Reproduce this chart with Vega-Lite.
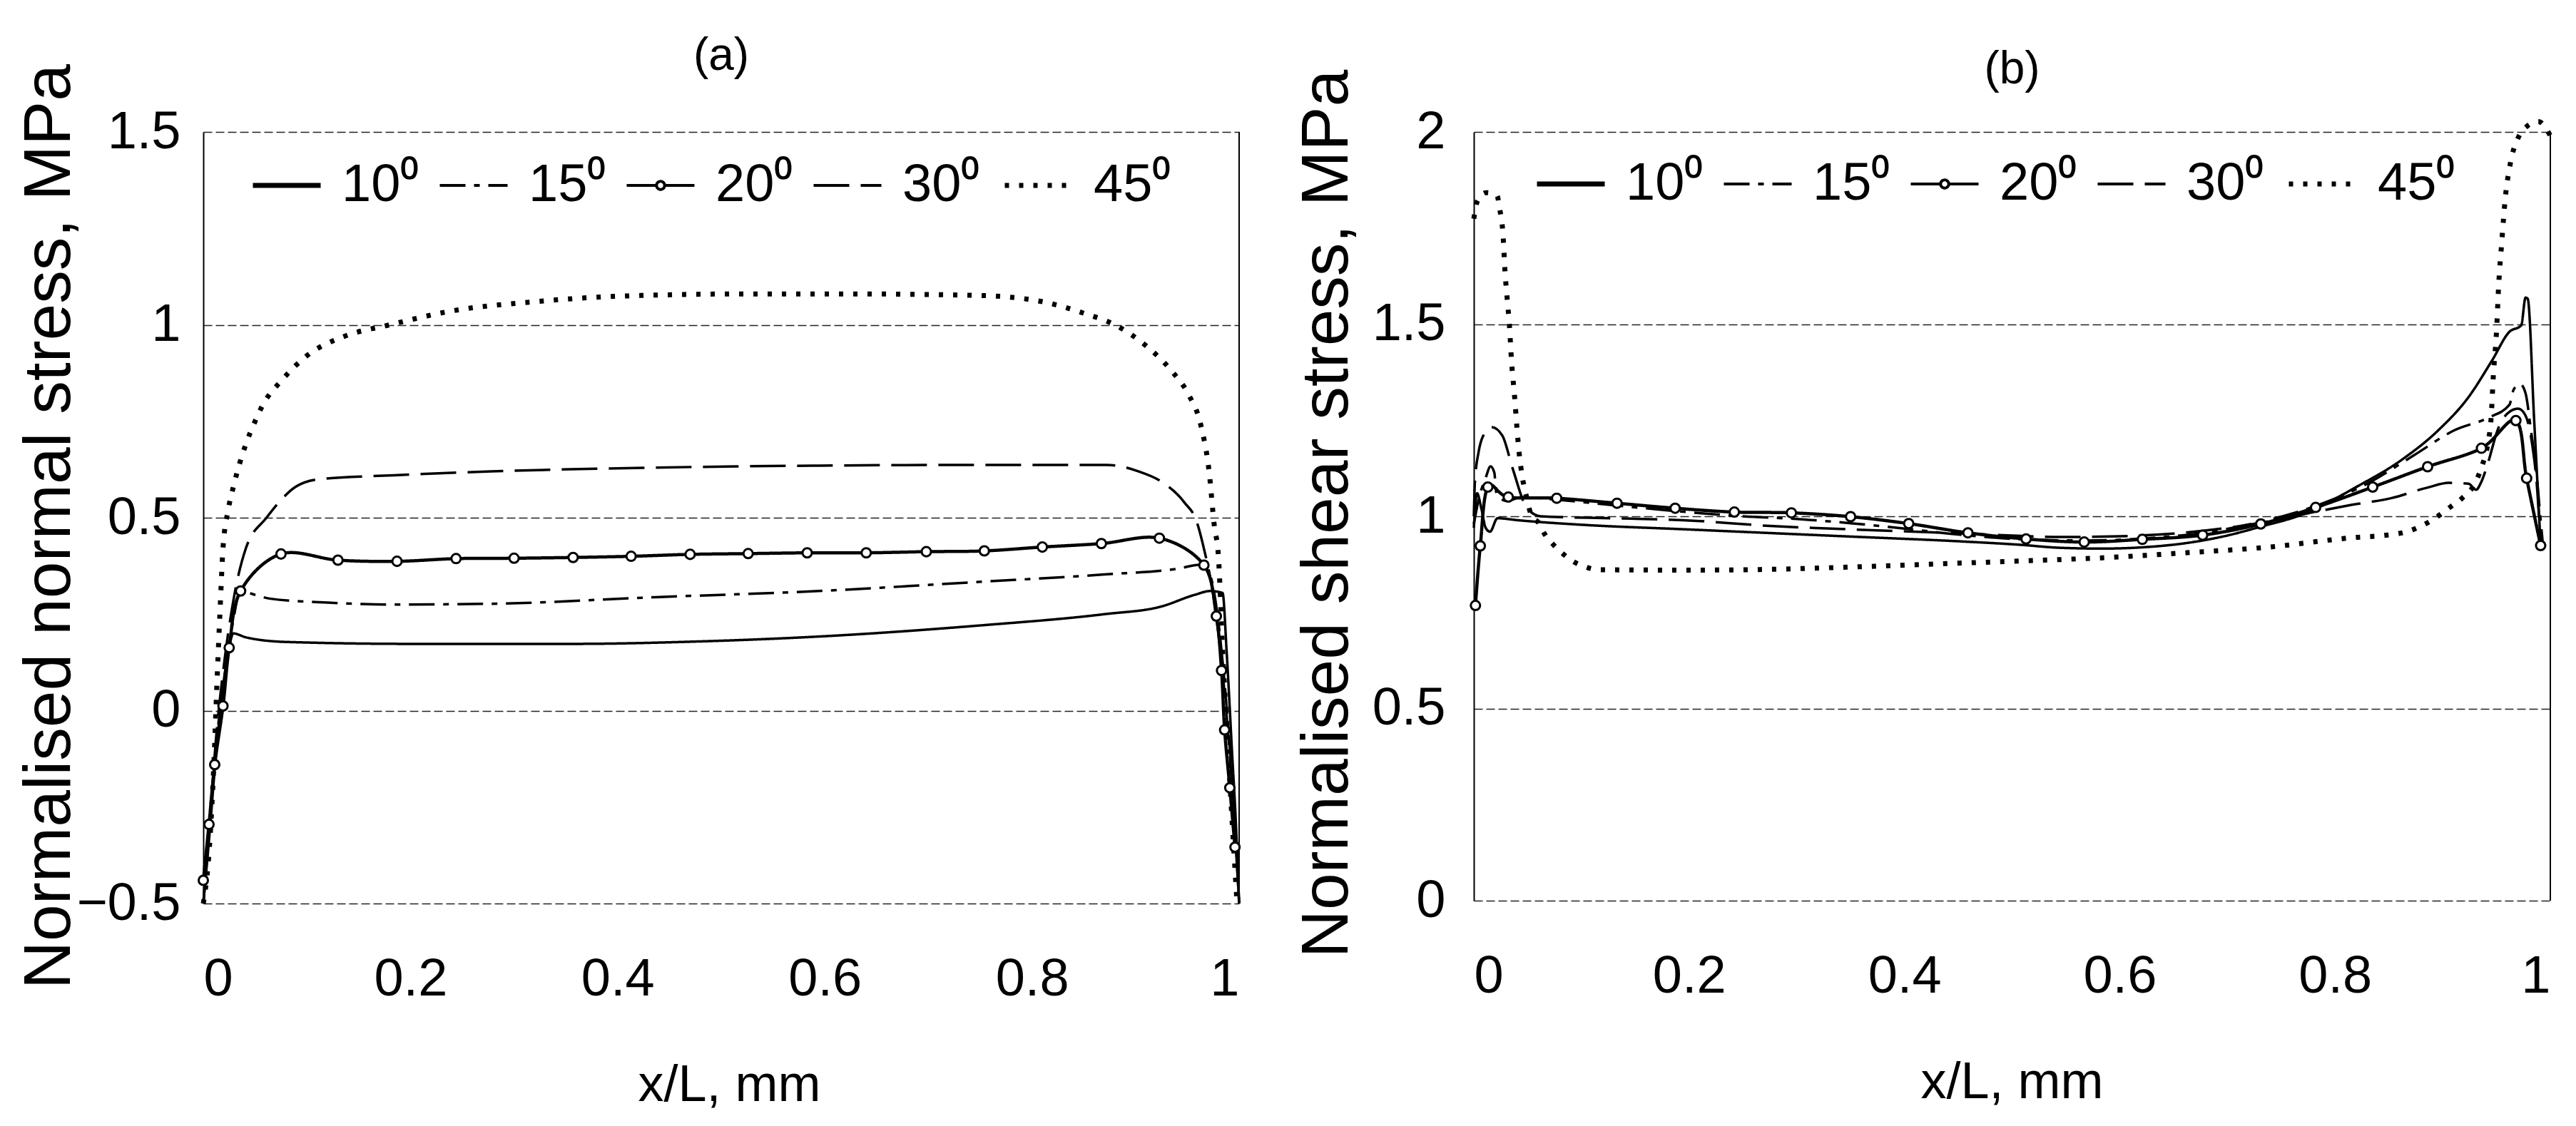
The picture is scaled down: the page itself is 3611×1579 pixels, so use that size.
{
  "$schema": "https://vega.github.io/schema/vega-lite/v6.json",
  "background": "white",
  "padding": {"left": 22, "top": 47, "right": 5, "bottom": 5},
  "bounds": "flush",
  "spacing": 329,
  "config": {
    "font": "Liberation Sans",
    "view": {"stroke": null},
    "axis": {"labelColor": "black", "titleColor": "black", "labelFont": "Liberation Sans", "titleFont": "Liberation Sans", "titleFontWeight": "normal", "ticks": false, "labelFontSize": 74},
    "axisX": {"domain": false, "grid": false, "labelPadding": 70, "titleFontSize": 72, "titleBaseline": "alphabetic"},
    "axisY": {"domain": true, "domainColor": "black", "domainWidth": 2, "grid": true, "gridColor": "#222222", "gridWidth": 1.5, "gridDash": [12, 5], "labelPadding": 32, "titleFontSize": 93, "titleBaseline": "alphabetic", "titleAngle": 270, "titleAlign": "center"},
    "title": {"fontSize": 64, "fontWeight": "normal", "color": "black", "font": "Liberation Sans", "anchor": "middle"}
  },
  "datasets": {
    "a": [
      {"x": 0, "y": -0.5, "s": "10⁰"}, {"x": 0.006, "y": -0.32, "s": "10⁰"}, {"x": 0.012, "y": -0.12, "s": "10⁰"}, {"x": 0.018, "y": 0.04, "s": "10⁰"}, {"x": 0.024, "y": 0.15, "s": "10⁰"}, {"x": 0.029, "y": 0.2, "s": "10⁰"}, {"x": 0.041, "y": 0.19, "s": "10⁰"}, {"x": 0.08, "y": 0.178, "s": "10⁰"}, {"x": 0.2, "y": 0.173, "s": "10⁰"}, {"x": 0.357, "y": 0.173, "s": "10⁰"}, {"x": 0.475, "y": 0.179, "s": "10⁰"}, {"x": 0.594, "y": 0.192, "s": "10⁰"}, {"x": 0.751, "y": 0.221, "s": "10⁰"}, {"x": 0.87, "y": 0.25, "s": "10⁰"}, {"x": 0.925, "y": 0.27, "s": "10⁰"}, {"x": 0.957, "y": 0.3, "s": "10⁰"}, {"x": 0.972, "y": 0.31, "s": "10⁰"}, {"x": 0.984, "y": 0.305, "s": "10⁰"}, {"x": 0.988, "y": 0.15, "s": "10⁰"}, {"x": 0.993, "y": -0.1, "s": "10⁰"}, {"x": 0.997, "y": -0.3, "s": "10⁰"}, {"x": 1, "y": -0.5, "s": "10⁰"},
      {"x": 0, "y": -0.5, "s": "15⁰"}, {"x": 0.006, "y": -0.3, "s": "15⁰"}, {"x": 0.012, "y": -0.1, "s": "15⁰"}, {"x": 0.02, "y": 0.08, "s": "15⁰"}, {"x": 0.028, "y": 0.22, "s": "15⁰"}, {"x": 0.036, "y": 0.31, "s": "15⁰"}, {"x": 0.05, "y": 0.3, "s": "15⁰"}, {"x": 0.065, "y": 0.29, "s": "15⁰"}, {"x": 0.12, "y": 0.28, "s": "15⁰"}, {"x": 0.183, "y": 0.275, "s": "15⁰"}, {"x": 0.278, "y": 0.277, "s": "15⁰"}, {"x": 0.436, "y": 0.294, "s": "15⁰"}, {"x": 0.594, "y": 0.31, "s": "15⁰"}, {"x": 0.751, "y": 0.334, "s": "15⁰"}, {"x": 0.87, "y": 0.353, "s": "15⁰"}, {"x": 0.941, "y": 0.368, "s": "15⁰"}, {"x": 0.962, "y": 0.378, "s": "15⁰"}, {"x": 0.972, "y": 0.35, "s": "15⁰"}, {"x": 0.979, "y": 0.25, "s": "15⁰"}, {"x": 0.985, "y": 0.1, "s": "15⁰"}, {"x": 0.991, "y": -0.1, "s": "15⁰"}, {"x": 0.996, "y": -0.3, "s": "15⁰"}, {"x": 1, "y": -0.5, "s": "15⁰"},
      {"x": 0, "y": -0.44, "s": "20⁰"}, {"x": 0.0055, "y": -0.295, "s": "20⁰"}, {"x": 0.011, "y": -0.14, "s": "20⁰"}, {"x": 0.019, "y": 0.012, "s": "20⁰"}, {"x": 0.025, "y": 0.163, "s": "20⁰"}, {"x": 0.036, "y": 0.31, "s": "20⁰"}, {"x": 0.075, "y": 0.406, "s": "20⁰"}, {"x": 0.13, "y": 0.39, "s": "20⁰"}, {"x": 0.187, "y": 0.387, "s": "20⁰"}, {"x": 0.244, "y": 0.394, "s": "20⁰"}, {"x": 0.3, "y": 0.395, "s": "20⁰"}, {"x": 0.357, "y": 0.397, "s": "20⁰"}, {"x": 0.413, "y": 0.4, "s": "20⁰"}, {"x": 0.47, "y": 0.405, "s": "20⁰"}, {"x": 0.526, "y": 0.407, "s": "20⁰"}, {"x": 0.583, "y": 0.409, "s": "20⁰"}, {"x": 0.64, "y": 0.409, "s": "20⁰"}, {"x": 0.698, "y": 0.412, "s": "20⁰"}, {"x": 0.754, "y": 0.414, "s": "20⁰"}, {"x": 0.81, "y": 0.424, "s": "20⁰"}, {"x": 0.867, "y": 0.433, "s": "20⁰"}, {"x": 0.923, "y": 0.447, "s": "20⁰"}, {"x": 0.966, "y": 0.377, "s": "20⁰"}, {"x": 0.978, "y": 0.245, "s": "20⁰"}, {"x": 0.983, "y": 0.104, "s": "20⁰"}, {"x": 0.986, "y": -0.05, "s": "20⁰"}, {"x": 0.991, "y": -0.2, "s": "20⁰"}, {"x": 0.996, "y": -0.354, "s": "20⁰"},
      {"x": 0, "y": -0.5, "s": "30⁰"}, {"x": 0.006, "y": -0.3, "s": "30⁰"}, {"x": 0.012, "y": -0.08, "s": "30⁰"}, {"x": 0.02, "y": 0.12, "s": "30⁰"}, {"x": 0.03, "y": 0.3, "s": "30⁰"}, {"x": 0.041, "y": 0.42, "s": "30⁰"}, {"x": 0.061, "y": 0.5, "s": "30⁰"}, {"x": 0.073, "y": 0.54, "s": "30⁰"}, {"x": 0.089, "y": 0.58, "s": "30⁰"}, {"x": 0.112, "y": 0.6, "s": "30⁰"}, {"x": 0.184, "y": 0.61, "s": "30⁰"}, {"x": 0.278, "y": 0.62, "s": "30⁰"}, {"x": 0.437, "y": 0.63, "s": "30⁰"}, {"x": 0.595, "y": 0.635, "s": "30⁰"}, {"x": 0.753, "y": 0.637, "s": "30⁰"}, {"x": 0.872, "y": 0.637, "s": "30⁰"}, {"x": 0.903, "y": 0.62, "s": "30⁰"}, {"x": 0.927, "y": 0.59, "s": "30⁰"}, {"x": 0.947, "y": 0.54, "s": "30⁰"}, {"x": 0.959, "y": 0.49, "s": "30⁰"}, {"x": 0.966, "y": 0.42, "s": "30⁰"}, {"x": 0.975, "y": 0.3, "s": "30⁰"}, {"x": 0.984, "y": 0.1, "s": "30⁰"}, {"x": 0.992, "y": -0.15, "s": "30⁰"}, {"x": 1, "y": -0.5, "s": "30⁰"},
      {"x": 0, "y": -0.5, "s": "45⁰"}, {"x": 0.006, "y": -0.35, "s": "45⁰"}, {"x": 0.01, "y": -0.15, "s": "45⁰"}, {"x": 0.013, "y": 0.06, "s": "45⁰"}, {"x": 0.016, "y": 0.25, "s": "45⁰"}, {"x": 0.019, "y": 0.42, "s": "45⁰"}, {"x": 0.024, "y": 0.52, "s": "45⁰"}, {"x": 0.029, "y": 0.58, "s": "45⁰"}, {"x": 0.035, "y": 0.64, "s": "45⁰"}, {"x": 0.041, "y": 0.69, "s": "45⁰"}, {"x": 0.05, "y": 0.75, "s": "45⁰"}, {"x": 0.057, "y": 0.79, "s": "45⁰"}, {"x": 0.077, "y": 0.86, "s": "45⁰"}, {"x": 0.1, "y": 0.92, "s": "45⁰"}, {"x": 0.136, "y": 0.97, "s": "45⁰"}, {"x": 0.18, "y": 1.0, "s": "45⁰"}, {"x": 0.24, "y": 1.036, "s": "45⁰"}, {"x": 0.32, "y": 1.06, "s": "45⁰"}, {"x": 0.4, "y": 1.074, "s": "45⁰"}, {"x": 0.52, "y": 1.08, "s": "45⁰"}, {"x": 0.63, "y": 1.08, "s": "45⁰"}, {"x": 0.75, "y": 1.076, "s": "45⁰"}, {"x": 0.81, "y": 1.06, "s": "45⁰"}, {"x": 0.85, "y": 1.03, "s": "45⁰"}, {"x": 0.88, "y": 1.0, "s": "45⁰"}, {"x": 0.91, "y": 0.946, "s": "45⁰"}, {"x": 0.935, "y": 0.88, "s": "45⁰"}, {"x": 0.951, "y": 0.82, "s": "45⁰"}, {"x": 0.963, "y": 0.74, "s": "45⁰"}, {"x": 0.971, "y": 0.62, "s": "45⁰"}, {"x": 0.976, "y": 0.48, "s": "45⁰"}, {"x": 0.98, "y": 0.4, "s": "45⁰"}, {"x": 0.984, "y": 0.16, "s": "45⁰"}, {"x": 0.988, "y": -0.04, "s": "45⁰"}, {"x": 0.992, "y": -0.23, "s": "45⁰"}, {"x": 0.998, "y": -0.5, "s": "45⁰"}
    ],
    "b": [
      {"x": 0, "y": 0.97, "s": "10⁰"}, {"x": 0.003, "y": 1.06, "s": "10⁰"}, {"x": 0.007, "y": 1.02, "s": "10⁰"}, {"x": 0.011, "y": 0.97, "s": "10⁰"}, {"x": 0.015, "y": 0.96, "s": "10⁰"}, {"x": 0.022, "y": 0.995, "s": "10⁰"}, {"x": 0.04, "y": 0.99, "s": "10⁰"}, {"x": 0.1, "y": 0.978, "s": "10⁰"}, {"x": 0.197, "y": 0.966, "s": "10⁰"}, {"x": 0.352, "y": 0.947, "s": "10⁰"}, {"x": 0.45, "y": 0.935, "s": "10⁰"}, {"x": 0.507, "y": 0.926, "s": "10⁰"}, {"x": 0.545, "y": 0.918, "s": "10⁰"}, {"x": 0.584, "y": 0.916, "s": "10⁰"}, {"x": 0.625, "y": 0.92, "s": "10⁰"}, {"x": 0.661, "y": 0.93, "s": "10⁰"}, {"x": 0.7, "y": 0.95, "s": "10⁰"}, {"x": 0.731, "y": 0.973, "s": "10⁰"}, {"x": 0.77, "y": 1.005, "s": "10⁰"}, {"x": 0.819, "y": 1.075, "s": "10⁰"}, {"x": 0.863, "y": 1.149, "s": "10⁰"}, {"x": 0.896, "y": 1.224, "s": "10⁰"}, {"x": 0.924, "y": 1.31, "s": "10⁰"}, {"x": 0.946, "y": 1.406, "s": "10⁰"}, {"x": 0.962, "y": 1.48, "s": "10⁰"}, {"x": 0.973, "y": 1.497, "s": "10⁰"}, {"x": 0.977, "y": 1.569, "s": "10⁰"}, {"x": 0.979, "y": 1.566, "s": "10⁰"}, {"x": 0.985, "y": 1.25, "s": "10⁰"}, {"x": 0.991, "y": 0.924, "s": "10⁰"},
      {"x": 0, "y": 0.98, "s": "15⁰"}, {"x": 0.005, "y": 1.05, "s": "15⁰"}, {"x": 0.011, "y": 1.1, "s": "15⁰"}, {"x": 0.0155, "y": 1.13, "s": "15⁰"}, {"x": 0.019, "y": 1.114, "s": "15⁰"}, {"x": 0.021, "y": 1.06, "s": "15⁰"}, {"x": 0.03, "y": 1.04, "s": "15⁰"}, {"x": 0.045, "y": 1.05, "s": "15⁰"}, {"x": 0.077, "y": 1.043, "s": "15⁰"}, {"x": 0.133, "y": 1.028, "s": "15⁰"}, {"x": 0.19, "y": 1.013, "s": "15⁰"}, {"x": 0.25, "y": 1.0, "s": "15⁰"}, {"x": 0.3, "y": 0.993, "s": "15⁰"}, {"x": 0.35, "y": 0.982, "s": "15⁰"}, {"x": 0.4, "y": 0.968, "s": "15⁰"}, {"x": 0.46, "y": 0.95, "s": "15⁰"}, {"x": 0.51, "y": 0.94, "s": "15⁰"}, {"x": 0.57, "y": 0.937, "s": "15⁰"}, {"x": 0.62, "y": 0.942, "s": "15⁰"}, {"x": 0.68, "y": 0.958, "s": "15⁰"}, {"x": 0.73, "y": 0.985, "s": "15⁰"}, {"x": 0.78, "y": 1.025, "s": "15⁰"}, {"x": 0.83, "y": 1.085, "s": "15⁰"}, {"x": 0.874, "y": 1.16, "s": "15⁰"}, {"x": 0.911, "y": 1.224, "s": "15⁰"}, {"x": 0.942, "y": 1.256, "s": "15⁰"}, {"x": 0.962, "y": 1.29, "s": "15⁰"}, {"x": 0.966, "y": 1.33, "s": "15⁰"}, {"x": 0.972, "y": 1.344, "s": "15⁰"}, {"x": 0.977, "y": 1.32, "s": "15⁰"}, {"x": 0.982, "y": 1.224, "s": "15⁰"}, {"x": 0.987, "y": 1.117, "s": "15⁰"}, {"x": 0.991, "y": 0.99, "s": "15⁰"}, {"x": 0.993, "y": 0.93, "s": "15⁰"},
      {"x": 0.0015, "y": 0.768, "s": "20⁰"}, {"x": 0.006, "y": 0.923, "s": "20⁰"}, {"x": 0.013, "y": 1.076, "s": "20⁰"}, {"x": 0.032, "y": 1.05, "s": "20⁰"}, {"x": 0.077, "y": 1.047, "s": "20⁰"}, {"x": 0.133, "y": 1.034, "s": "20⁰"}, {"x": 0.187, "y": 1.021, "s": "20⁰"}, {"x": 0.242, "y": 1.011, "s": "20⁰"}, {"x": 0.295, "y": 1.009, "s": "20⁰"}, {"x": 0.35, "y": 0.999, "s": "20⁰"}, {"x": 0.404, "y": 0.981, "s": "20⁰"}, {"x": 0.459, "y": 0.957, "s": "20⁰"}, {"x": 0.513, "y": 0.941, "s": "20⁰"}, {"x": 0.567, "y": 0.933, "s": "20⁰"}, {"x": 0.621, "y": 0.94, "s": "20⁰"}, {"x": 0.677, "y": 0.951, "s": "20⁰"}, {"x": 0.731, "y": 0.98, "s": "20⁰"}, {"x": 0.782, "y": 1.023, "s": "20⁰"}, {"x": 0.835, "y": 1.076, "s": "20⁰"}, {"x": 0.886, "y": 1.129, "s": "20⁰"}, {"x": 0.936, "y": 1.177, "s": "20⁰"}, {"x": 0.968, "y": 1.249, "s": "20⁰"}, {"x": 0.978, "y": 1.099, "s": "20⁰"}, {"x": 0.991, "y": 0.924, "s": "20⁰"},
      {"x": 0, "y": 1.0, "s": "30⁰"}, {"x": 0.001, "y": 1.09, "s": "30⁰"}, {"x": 0.0044, "y": 1.167, "s": "30⁰"}, {"x": 0.0088, "y": 1.21, "s": "30⁰"}, {"x": 0.0166, "y": 1.232, "s": "30⁰"}, {"x": 0.0265, "y": 1.21, "s": "30⁰"}, {"x": 0.036, "y": 1.125, "s": "30⁰"}, {"x": 0.049, "y": 1.023, "s": "30⁰"}, {"x": 0.062, "y": 1.0, "s": "30⁰"}, {"x": 0.128, "y": 0.995, "s": "30⁰"}, {"x": 0.194, "y": 0.99, "s": "30⁰"}, {"x": 0.275, "y": 0.975, "s": "30⁰"}, {"x": 0.35, "y": 0.966, "s": "30⁰"}, {"x": 0.43, "y": 0.958, "s": "30⁰"}, {"x": 0.5, "y": 0.95, "s": "30⁰"}, {"x": 0.545, "y": 0.946, "s": "30⁰"}, {"x": 0.6, "y": 0.948, "s": "30⁰"}, {"x": 0.65, "y": 0.955, "s": "30⁰"}, {"x": 0.7, "y": 0.97, "s": "30⁰"}, {"x": 0.739, "y": 0.987, "s": "30⁰"}, {"x": 0.777, "y": 1.009, "s": "30⁰"}, {"x": 0.816, "y": 1.03, "s": "30⁰"}, {"x": 0.852, "y": 1.047, "s": "30⁰"}, {"x": 0.885, "y": 1.074, "s": "30⁰"}, {"x": 0.906, "y": 1.087, "s": "30⁰"}, {"x": 0.924, "y": 1.085, "s": "30⁰"}, {"x": 0.931, "y": 1.069, "s": "30⁰"}, {"x": 0.936, "y": 1.09, "s": "30⁰"}, {"x": 0.942, "y": 1.138, "s": "30⁰"}, {"x": 0.951, "y": 1.224, "s": "30⁰"}, {"x": 0.96, "y": 1.267, "s": "30⁰"}, {"x": 0.97, "y": 1.28, "s": "30⁰"}, {"x": 0.976, "y": 1.267, "s": "30⁰"}, {"x": 0.983, "y": 1.19, "s": "30⁰"}, {"x": 0.988, "y": 1.063, "s": "30⁰"}, {"x": 0.991, "y": 0.924, "s": "30⁰"},
      {"x": 0, "y": 1.774, "s": "45⁰"}, {"x": 0.0033, "y": 1.82, "s": "45⁰"}, {"x": 0.0115, "y": 1.842, "s": "45⁰"}, {"x": 0.0216, "y": 1.834, "s": "45⁰"}, {"x": 0.024, "y": 1.8, "s": "45⁰"}, {"x": 0.027, "y": 1.737, "s": "45⁰"}, {"x": 0.029, "y": 1.635, "s": "45⁰"}, {"x": 0.031, "y": 1.565, "s": "45⁰"}, {"x": 0.033, "y": 1.5, "s": "45⁰"}, {"x": 0.035, "y": 1.404, "s": "45⁰"}, {"x": 0.038, "y": 1.307, "s": "45⁰"}, {"x": 0.04, "y": 1.232, "s": "45⁰"}, {"x": 0.042, "y": 1.167, "s": "45⁰"}, {"x": 0.045, "y": 1.103, "s": "45⁰"}, {"x": 0.049, "y": 1.05, "s": "45⁰"}, {"x": 0.053, "y": 1.006, "s": "45⁰"}, {"x": 0.061, "y": 0.98, "s": "45⁰"}, {"x": 0.066, "y": 0.953, "s": "45⁰"}, {"x": 0.074, "y": 0.926, "s": "45⁰"}, {"x": 0.083, "y": 0.902, "s": "45⁰"}, {"x": 0.092, "y": 0.883, "s": "45⁰"}, {"x": 0.103, "y": 0.869, "s": "45⁰"}, {"x": 0.115, "y": 0.861, "s": "45⁰"}, {"x": 0.2, "y": 0.86, "s": "45⁰"}, {"x": 0.275, "y": 0.862, "s": "45⁰"}, {"x": 0.35, "y": 0.868, "s": "45⁰"}, {"x": 0.43, "y": 0.876, "s": "45⁰"}, {"x": 0.5, "y": 0.883, "s": "45⁰"}, {"x": 0.584, "y": 0.892, "s": "45⁰"}, {"x": 0.661, "y": 0.905, "s": "45⁰"}, {"x": 0.739, "y": 0.92, "s": "45⁰"}, {"x": 0.819, "y": 0.945, "s": "45⁰"}, {"x": 0.845, "y": 0.95, "s": "45⁰"}, {"x": 0.868, "y": 0.961, "s": "45⁰"}, {"x": 0.889, "y": 0.988, "s": "45⁰"}, {"x": 0.908, "y": 1.026, "s": "45⁰"}, {"x": 0.918, "y": 1.047, "s": "45⁰"}, {"x": 0.932, "y": 1.097, "s": "45⁰"}, {"x": 0.936, "y": 1.127, "s": "45⁰"}, {"x": 0.942, "y": 1.19, "s": "45⁰"}, {"x": 0.945, "y": 1.256, "s": "45⁰"}, {"x": 0.947, "y": 1.363, "s": "45⁰"}, {"x": 0.95, "y": 1.48, "s": "45⁰"}, {"x": 0.952, "y": 1.6, "s": "45⁰"}, {"x": 0.955, "y": 1.717, "s": "45⁰"}, {"x": 0.958, "y": 1.823, "s": "45⁰"}, {"x": 0.963, "y": 1.92, "s": "45⁰"}, {"x": 0.97, "y": 1.984, "s": "45⁰"}, {"x": 0.978, "y": 2.014, "s": "45⁰"}, {"x": 0.989, "y": 2.027, "s": "45⁰"}, {"x": 1, "y": 1.99, "s": "45⁰"}
    ]
  },
  "resolve": {
    "scale": {"x": "independent", "y": "independent", "strokeDash": "independent"},
    "legend": {"strokeDash": "independent"}
  },
  "hconcat": [
    {
      "width": 1452,
      "height": 1082,
      "title": {"text": "(a)", "offset": -22},
      "data": {"name": "a"},
      "layer": [
        {
          "transform": [{"filter": "datum.s !== '20⁰'"}],
          "mark": {"type": "line", "interpolate": "monotone", "color": "black"},
          "encoding": {
            "x": {"field": "x", "type": "quantitative", "scale": {"domain": [0, 1], "nice": false, "zero": false}, "axis": {"values": [0, 0.2, 0.4, 0.6, 0.8, 1], "format": "~g", "title": "x/L, mm", "titleX": 737, "titleY": 276}},
            "y": {"field": "y", "type": "quantitative", "scale": {"domain": [-0.5, 1.5], "nice": false, "zero": false}, "axis": {"values": [-0.5, 0, 0.5, 1, 1.5], "format": "~g", "title": "Normalised normal stress, MPa", "titleX": -188, "titleY": 553}},
            "strokeDash": {
              "field": "s", "type": "nominal",
              "scale": {"domain": ["10⁰", "15⁰", "20⁰", "30⁰", "45⁰"], "range": [[1, 0], [36, 12, 8, 12], [1, 0], [50, 16], [6, 14]]},
              "legend": {
                "orient": "none", "legendX": 80, "legendY": 38, "direction": "horizontal", "columns": 5, "title": null,
                "symbolType": "stroke", "symbolSize": 9025, "symbolStrokeWidth": 5, "symbolStrokeColor": "black",
                "labelFontSize": 74, "labelColor": "black", "labelOffset": 40, "columnPadding": 20,
                "encode": {"symbols": {"update": {
                  "shape": {"signal": "datum.value === '20⁰' ? 'M-1,0H-0.12M0.12,0H1M-0.12,0A0.12,0.12 0 1,1 0.12,0A0.12,0.12 0 1,1 -0.12,0' : 'stroke'"},
                  "stroke": {"value": "black"},
                  "fill": {"value": "white"},
                  "strokeDash": {"signal": "datum.value === '15⁰' ? [36, 12, 8, 12] : datum.value === '30⁰' ? [32, 12] : datum.value === '45⁰' ? [6, 10] : [1, 0]"},
                  "strokeWidth": {"signal": "datum.value === '45⁰' ? 7 : (datum.value === '10⁰' ? 7 : 4)"},
                  "opacity": {"value": 1}
                }}}
              }
            },
            "strokeWidth": {"condition": {"test": "datum.s === '45⁰'", "value": 7}, "value": 3.5}
          }
        },
        {
          "transform": [{"filter": "datum.s === '20⁰'"}],
          "mark": {"type": "line", "interpolate": "cardinal", "color": "black", "strokeWidth": 4.5},
          "encoding": {
            "x": {"field": "x", "type": "quantitative"},
            "y": {"field": "y", "type": "quantitative"},
            "strokeDash": {"field": "s", "type": "nominal"}
          }
        },
        {
          "transform": [{"filter": "datum.s === '20⁰'"}],
          "mark": {"type": "point", "shape": "circle", "filled": true, "fill": "white", "stroke": "black", "strokeWidth": 3, "size": 170, "opacity": 1},
          "encoding": {
            "x": {"field": "x", "type": "quantitative"},
            "y": {"field": "y", "type": "quantitative"}
          }
        },
        {
          "data": {"values": [{"edge": "right"}]},
          "mark": {"type": "rule", "color": "black", "strokeWidth": 2},
          "encoding": {"x": {"datum": 1, "type": "quantitative"}}
        }
      ]
    },
    {
      "width": 1509,
      "height": 1078,
      "title": {"text": "(b)", "offset": -33},
      "data": {"name": "b"},
      "layer": [
        {
          "transform": [{"filter": "datum.s !== '20⁰'"}],
          "mark": {"type": "line", "interpolate": "monotone", "color": "black"},
          "encoding": {
            "x": {"field": "x", "type": "quantitative", "scale": {"domain": [0, 1], "nice": false, "zero": false}, "axis": {"values": [0, 0.2, 0.4, 0.6, 0.8, 1], "format": "~g", "title": "x/L, mm", "titleX": 754, "titleY": 276}},
            "y": {"field": "y", "type": "quantitative", "scale": {"domain": [0, 2], "nice": false, "zero": false}, "axis": {"values": [0, 0.5, 1, 1.5, 2], "format": "~g", "title": "Normalised shear stress, MPa", "titleX": -178, "titleY": 535, "labelPadding": 40}},
            "strokeDash": {
              "field": "s", "type": "nominal",
              "scale": {"domain": ["10⁰", "15⁰", "20⁰", "30⁰", "45⁰"], "range": [[1, 0], [36, 12, 8, 12], [1, 0], [50, 16], [6, 14]]},
              "legend": {
                "orient": "none", "legendX": 99, "legendY": 36, "direction": "horizontal", "columns": 5, "title": null,
                "symbolType": "stroke", "symbolSize": 9025, "symbolStrokeWidth": 5, "symbolStrokeColor": "black",
                "labelFontSize": 74, "labelColor": "black", "labelOffset": 40, "columnPadding": 20,
                "encode": {"symbols": {"update": {
                  "shape": {"signal": "datum.value === '20⁰' ? 'M-1,0H-0.12M0.12,0H1M-0.12,0A0.12,0.12 0 1,1 0.12,0A0.12,0.12 0 1,1 -0.12,0' : 'stroke'"},
                  "stroke": {"value": "black"},
                  "fill": {"value": "white"},
                  "strokeDash": {"signal": "datum.value === '15⁰' ? [36, 12, 8, 12] : datum.value === '30⁰' ? [32, 12] : datum.value === '45⁰' ? [6, 10] : [1, 0]"},
                  "strokeWidth": {"signal": "datum.value === '45⁰' ? 7 : (datum.value === '10⁰' ? 7 : 4)"},
                  "opacity": {"value": 1}
                }}}
              }
            },
            "strokeWidth": {"condition": {"test": "datum.s === '45⁰'", "value": 7}, "value": 3.5}
          }
        },
        {
          "transform": [{"filter": "datum.s === '20⁰'"}],
          "mark": {"type": "line", "interpolate": "cardinal", "color": "black", "strokeWidth": 4.5},
          "encoding": {
            "x": {"field": "x", "type": "quantitative"},
            "y": {"field": "y", "type": "quantitative"},
            "strokeDash": {"field": "s", "type": "nominal"}
          }
        },
        {
          "transform": [{"filter": "datum.s === '20⁰'"}],
          "mark": {"type": "point", "shape": "circle", "filled": true, "fill": "white", "stroke": "black", "strokeWidth": 3, "size": 170, "opacity": 1},
          "encoding": {
            "x": {"field": "x", "type": "quantitative"},
            "y": {"field": "y", "type": "quantitative"}
          }
        },
        {
          "data": {"values": [{"edge": "right"}]},
          "mark": {"type": "rule", "color": "black", "strokeWidth": 2},
          "encoding": {"x": {"datum": 1, "type": "quantitative"}}
        }
      ]
    }
  ]
}
